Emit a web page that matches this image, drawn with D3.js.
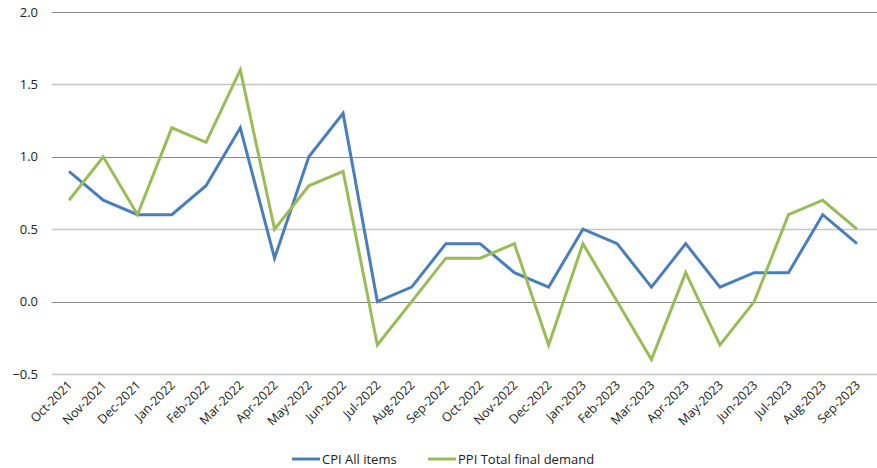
<!DOCTYPE html>
<html lang="en">
<head>
<meta charset="utf-8" />
<script src="https://cdn.jsdelivr.net/npm/d3@7"></script>
<style>
  body { margin: 0; background: #fff; }
  text { font-family: "Open Sans", "Noto Sans", sans-serif; fill: #222; }
</style>
</head>
<body>
<div id="chart"></div>
<script>
// monthly % change
const months = ["Oct-2021","Nov-2021","Dec-2021","Jan-2022","Feb-2022","Mar-2022","Apr-2022","May-2022",
  "Jun-2022","Jul-2022","Aug-2022","Sep-2022","Oct-2022","Nov-2022","Dec-2022","Jan-2023","Feb-2023",
  "Mar-2023","Apr-2023","May-2023","Jun-2023","Jul-2023","Aug-2023","Sep-2023"];
const cpi = [0.9,0.7,0.6,0.6,0.8,1.2,0.3,1.0,1.3,0.0,0.1,0.4,0.4,0.2,0.1,0.5,0.4,0.1,0.4,0.1,0.2,0.2,0.6,0.4];
const ppi = [0.7,1.0,0.6,1.2,1.1,1.6,0.5,0.8,0.9,-0.3,0.0,0.3,0.3,0.4,-0.3,0.4,0.0,-0.4,0.2,-0.3,0.0,0.6,0.7,0.5];
const yTicks = [-0.5,0.0,0.5,1.0,1.5,2.0];
const seriesNames = ["CPI All items","PPI Total final demand"];
const colors = ["#4a7ebb","#9bbb59"];

const W = 877, H = 468;
const svg = d3.select("#chart").append("svg").attr("width", W).attr("height", H);

const x = d3.scalePoint().domain(months).range([69, 857]);
const y = d3.scaleLinear().domain([-0.5, 2.0]).range([374, 12]);

// grid
svg.append("g").selectAll("line").data(yTicks).join("line")
  .attr("x1", 52).attr("x2", 877)
  .attr("y1", d => Math.round(y(d)) + 0.5).attr("y2", d => Math.round(y(d)) + 0.5)
  .attr("stroke", (d, i) => i % 2 ? "#8a8a8a" : "#c4c4c4")
  .attr("stroke-width", (d, i) => i % 2 ? 1 : 1.4);

// y labels
svg.append("g").selectAll("text").data(yTicks).join("text")
  .attr("x", 38).attr("y", d => y(d)).attr("dy", "0.35em")
  .attr("text-anchor", "end").attr("font-size", 13)
  .text(d => d3.format(".1f")(d));

// x labels
svg.append("g").selectAll("text").data(months).join("text")
  .attr("transform", d => `translate(${x(d) + 4},${386}) rotate(-45)`)
  .attr("text-anchor", "end").attr("font-size", 12.5)
  .text(d => d);

// lines
const line = d3.line().x((d, i) => x(months[i])).y(d => y(d));
[cpi, ppi].forEach((s, k) => {
  svg.append("path").datum(s)
    .attr("fill", "none").attr("stroke", colors[k]).attr("stroke-width", 3)
    .attr("stroke-linejoin", "miter")
    .attr("d", line);
});

// legend
const legX = [292, 428];
const leg = svg.append("g").selectAll("g").data(seriesNames).join("g")
  .attr("transform", (d, i) => `translate(${legX[i]},459)`);
leg.append("line").attr("x1", 0).attr("x2", 28).attr("y1", 0).attr("y2", 0)
  .attr("stroke", (d, i) => colors[i]).attr("stroke-width", 3);
leg.append("text").attr("x", 30).attr("dy", "0.35em").attr("font-size", 13).text(d => d);
</script>
</body>
</html>
